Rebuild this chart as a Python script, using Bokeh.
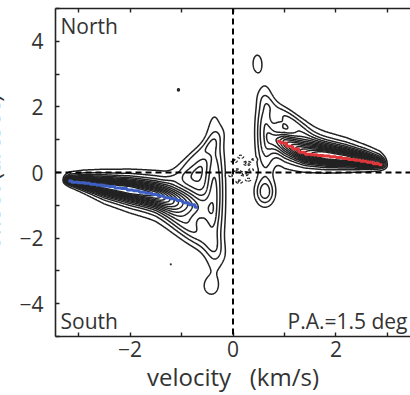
import numpy as np
from bokeh.plotting import figure
from bokeh.models import Range1d, LinearAxis, Label, Span, FixedTicker
from bokeh.embed import file_html
from bokeh.resources import INLINE

FONT = "Open Sans"

# Peak-position traces (velocity channel -> offset)
blue_vel = [-3.20, -3.08, -2.96, -2.84, -2.72, -2.60, -2.48, -2.36, -2.24, -2.12, -2.00,
            -1.88, -1.76, -1.64, -1.52, -1.40, -1.28, -1.16, -1.04, -0.92, -0.80, -0.68]
blue_off = [-0.26, -0.30, -0.31, -0.33, -0.36, -0.38, -0.41, -0.43, -0.47, -0.49, -0.53,
            -0.56, -0.60, -0.63, -0.67, -0.72, -0.77, -0.80, -0.85, -0.92, -0.98, -1.06]
red_vel = [0.86, 0.98, 1.10, 1.22, 1.34, 1.46, 1.58, 1.70, 1.82, 1.94, 2.06, 2.18,
           2.30, 2.42, 2.54, 2.66, 2.78, 2.90]
red_off = [0.95, 0.90, 0.80, 0.72, 0.62, 0.56, 0.54, 0.52, 0.50, 0.48, 0.46, 0.43,
           0.40, 0.37, 0.34, 0.31, 0.27, 0.24]

# Ridge profiles of the two lobes: knot velocity, peak intensity, ridge offset,
# width above the ridge, width below the ridge
blue_knot_vel = [-3.32, -3.18, -2.90, -2.50, -2.00, -1.50, -1.00, -0.60, -0.30]
blue_knot_amp = [0.00, 0.90, 1.30, 1.50, 1.60, 1.35, 0.80, 0.40, 0.00]
blue_knot_off = [-0.24, -0.26, -0.31, -0.41, -0.53, -0.68, -0.90, -1.08, -1.20]
blue_knot_wup = [0.08, 0.09, 0.11, 0.14, 0.17, 0.21, 0.28, 0.30, 0.30]
blue_knot_wdn = [0.05, 0.06, 0.095, 0.15, 0.19, 0.22, 0.29, 0.35, 0.35]

red_knot_vel = [0.60, 0.80, 1.00, 1.40, 1.80, 2.20, 2.60, 2.85, 3.02]
red_knot_amp = [0.00, 0.45, 0.85, 1.30, 1.60, 1.55, 1.25, 0.80, 0.00]
red_knot_off = [1.10, 1.00, 0.92, 0.60, 0.50, 0.42, 0.33, 0.27, 0.22]
red_knot_wup = [0.19, 0.19, 0.19, 0.24, 0.20, 0.175, 0.145, 0.13, 0.12]
red_knot_wdn = [0.26, 0.26, 0.26, 0.17, 0.14, 0.115, 0.09, 0.075, 0.065]

# Additional emission components: centre, major/minor widths, angle, intensity
comp_vel  = [-0.36, -0.72, -0.85, 0.62, 1.10, 0.88, 0.62, 0.47, -0.44, -1.06, -1.21]
comp_off  = [-0.65, 0.45, -1.70, 1.20, 1.60, 1.45, -0.60, 3.33, -3.46, 2.52, -2.80]
comp_smaj = [1.38, 0.50, 0.60, 0.85, 0.45, 0.13, 0.28, 0.26, 0.20, 0.06, 0.025]
comp_smin = [0.13, 0.12, 0.18, 0.12, 0.13, 0.08, 0.13, 0.085, 0.11, 0.03, 0.02]
comp_ang  = [90, 58, -55, 90, -55, 90, 90, 90, 90, 90, 0]
comp_amp  = [0.42, 0.24, 0.30, 0.40, 0.28, 0.15, 0.34, 0.15, 0.15, 0.12, 0.11]

# Negative residuals around the systemic velocity
neg_vel = [0.02, 0.15, 0.28, 0.08, 0.22, 0.36, 0.12, 0.30, -0.05, 0.40]
neg_off = [0.35, 0.48, 0.28, 0.06, -0.04, 0.08, -0.28, -0.22, -0.10, 0.40]
neg_amp = [-0.22, -0.20, -0.25, -0.22, -0.25, -0.18, -0.22, -0.20, -0.18, -0.18]
neg_sig = [0.05, 0.05, 0.06, 0.05, 0.06, 0.05, 0.05, 0.05, 0.04, 0.04]

pos_levels = [0.1 * k for k in range(1, 15)]
neg_levels = [-0.2, -0.1]

vgrid = np.arange(-3.45, 3.4501, 0.012)
ygrid = np.arange(-5.0, 5.0001, 0.012)
V, Y = np.meshgrid(vgrid, ygrid)


def ridge(kv, ka, ko, kwu, kwd):
    amp = np.interp(V, kv, ka, left=0.0, right=0.0)
    cen = np.interp(V, kv, ko)
    wu = np.interp(V, kv, kwu)
    wd = np.interp(V, kv, kwd)
    d = Y - cen
    s = np.where(d > 0, wu, wd)
    x = d / s
    return amp * (0.65 * np.exp(-0.5 * x ** 2) + 0.35 * np.exp(-0.125 * x ** 2))


def blob(v0, y0, smaj, smin, ang, amp):
    t = np.deg2rad(ang)
    dv, dy = V - v0, Y - y0
    a = dv * np.cos(t) + dy * np.sin(t)
    b = -dv * np.sin(t) + dy * np.cos(t)
    return amp * np.exp(-0.5 * ((a / smaj) ** 2 + (b / smin) ** 2))


Z = ridge(blue_knot_vel, blue_knot_amp, blue_knot_off, blue_knot_wup, blue_knot_wdn)
Z += ridge(red_knot_vel, red_knot_amp, red_knot_off, red_knot_wup, red_knot_wdn)
for i in range(len(comp_vel)):
    Z += blob(comp_vel[i], comp_off[i], comp_smaj[i], comp_smin[i], comp_ang[i], comp_amp[i])
for i in range(len(neg_vel)):
    Z += blob(neg_vel[i], neg_off[i], neg_sig[i], neg_sig[i] * 0.8, 0, neg_amp[i])

# The left edge of the page cuts through the offset label, so the figure is
# shifted left by a negative margin.
SHIFT = 45
p = figure(width=410 + SHIFT, height=395, output_backend="svg", toolbar_location=None,
           x_range=Range1d(-3.45, 3.45), y_range=Range1d(-5, 5),
           margin=(0, 0, 0, -SHIFT),
           min_border_left=55 + SHIFT, min_border_right=0, min_border_top=8,
           min_border_bottom=58)
p.grid.visible = False
p.outline_line_color = None
p.background_fill_color = "white"
p.border_fill_color = "white"

p.contour(x=vgrid, y=ygrid, z=Z, levels=pos_levels, line_color="#222222", line_width=1.5)
p.contour(x=vgrid, y=ygrid, z=Z, levels=neg_levels, line_color="#222222", line_width=1.2,
          line_dash="3 2")

p.add_layout(Span(location=0, dimension="height", line_color="black", line_width=2,
                  line_dash="6 4"))
p.add_layout(Span(location=0, dimension="width", line_color="black", line_width=2,
                  line_dash="6 4"))

p.step(blue_vel, blue_off, mode="center", line_color="#3d5fc4", line_width=3)
p.step(red_vel, red_off, mode="center", line_color="#e0363a", line_width=3)

x_major = [-2, 0, 2]
x_minor = [-3, -1, 1, 3]
y_major = [-4, -2, 0, 2, 4]
y_minor = [-5, -3, -1, 1, 3, 5]
tick_text = {-4: "\u22124", -2: "\u22122", 0: "0", 2: "2", 4: "4"}

top = LinearAxis()
p.add_layout(top, "above")
bottom = p.below[0]
left = p.left[0]

for ax in [bottom, left, top]:
    ax.axis_line_width = 1.6
    ax.axis_line_color = "#222222"
    ax.major_tick_line_color = "#222222"
    ax.minor_tick_line_color = "#222222"
    ax.major_tick_line_width = 1.4
    ax.minor_tick_line_width = 1.4
    ax.major_tick_in = 4
    ax.major_tick_out = 0
    ax.minor_tick_in = 4
    ax.minor_tick_out = 0
    ax.major_label_text_font = FONT
    ax.major_label_text_font_size = "21px"
    ax.major_label_text_color = "#333333"
    ax.major_label_overrides = tick_text
    ax.axis_label_text_font = FONT
    ax.axis_label_text_font_size = "24px"
    ax.axis_label_text_font_style = "normal"
    ax.axis_label_text_color = "#333333"

bottom.ticker = FixedTicker(ticks=x_major, minor_ticks=x_minor)
top.ticker = FixedTicker(ticks=x_major, minor_ticks=x_minor)
left.ticker = FixedTicker(ticks=y_major, minor_ticks=y_minor)
top.major_label_text_color = None
top.major_label_standoff = 0

bottom.major_label_standoff = 4
bottom.axis_label = "velocity \u00a0\u00a0(km/s)"
bottom.axis_label_standoff = 0
left.major_label_standoff = 12
left.axis_label = "offset (arcsec)"
left.axis_label_standoff = 9

for txt, xs, ys, align in [("North", 5, 311, "left"), ("South", 5, 16, "left"),
                           ("P.A.=1.5 deg", 352, 16, "right")]:
    p.add_layout(Label(x=xs, y=ys, x_units="screen", y_units="screen", text=txt,
                       text_align=align, text_baseline="alphabetic", text_font=FONT,
                       text_font_size="21px", text_color="#333333"))

open("out.html", "w").write(file_html(p, INLINE))
